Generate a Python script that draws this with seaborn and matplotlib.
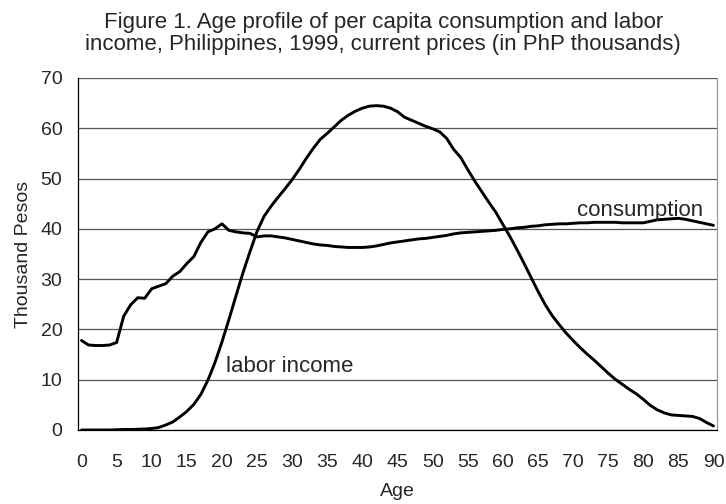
import numpy as np
import pandas as pd
import matplotlib
matplotlib.use('Agg')
import matplotlib.pyplot as plt
import seaborn as sns

# age profile data (thousand pesos)
ages = list(range(0, 91))
consumption = [17.8, 16.9, 16.8, 16.8, 16.9, 17.4, 22.6, 24.9, 26.3, 26.2,
               28.1, 28.6, 29.1, 30.6, 31.5, 33.1, 34.5, 37.3, 39.4, 40.0,
               41.0, 39.7, 39.4, 39.2, 39.1, 38.4, 38.6, 38.6, 38.4, 38.2,
               37.9, 37.6, 37.3, 37.0, 36.8, 36.7, 36.5, 36.4, 36.3, 36.3,
               36.3, 36.4, 36.6, 36.9, 37.2, 37.4, 37.6, 37.8, 38.0, 38.1,
               38.3, 38.5, 38.7, 39.0, 39.2, 39.3, 39.4, 39.5, 39.6, 39.7,
               39.9, 40.0, 40.2, 40.3, 40.5, 40.6, 40.8, 40.9, 41.0, 41.0,
               41.1, 41.2, 41.2, 41.3, 41.3, 41.3, 41.3, 41.2, 41.2, 41.2,
               41.2, 41.5, 41.8, 41.9, 42.0, 42.1, 41.9, 41.6, 41.3, 41.0,
               40.7]
labor_income = [0.0, 0.0, 0.0, 0.0, 0.0, 0.05, 0.1, 0.1, 0.15, 0.2,
                0.3, 0.5, 1.0, 1.6, 2.6, 3.7, 5.1, 7.1, 9.9, 13.4,
                17.5, 22.0, 26.7, 31.3, 35.5, 39.5, 42.5, 44.5, 46.3, 48.0,
                49.8, 51.8, 54.0, 56.0, 57.8, 59.0, 60.3, 61.6, 62.6, 63.4,
                64.0, 64.4, 64.5, 64.4, 64.0, 63.3, 62.2, 61.6, 61.0, 60.4,
                59.9, 59.3, 58.0, 55.8, 54.2, 51.8, 49.5, 47.4, 45.3, 43.3,
                40.9, 38.5, 35.9, 33.2, 30.4, 27.6, 25.0, 22.8, 21.0, 19.3,
                17.8, 16.4, 15.1, 13.9, 12.6, 11.3, 10.1, 9.1, 8.1, 7.2,
                6.1, 4.9, 4.0, 3.4, 3.0, 2.9, 2.8, 2.7, 2.3, 1.5,
                0.8]

df = pd.DataFrame({'age': ages, 'consumption': consumption, 'labor income': labor_income})
long = df.melt(id_vars='age', var_name='series', value_name='value')

sns.set_style('white')
plt.rcParams['font.family'] = ['Liberation Sans', 'DejaVu Sans']

fig = plt.figure(figsize=(7.26, 5.04), dpi=100)
ax = fig.add_axes([78 / 726, 1 - 430 / 504, 639 / 726, 352 / 504])

sns.lineplot(data=long, x='age', y='value', units='series', estimator=None,
             color='black', linewidth=2.1, ax=ax, legend=False)

ax.set_xlim(-0.5, 90.5)
ax.set_ylim(0, 70)
ax.set_xticks(range(0, 91, 5))
ax.set_xticks(np.arange(-0.5, 91, 1), minor=True)
ax.set_yticks(range(0, 71, 10))
ax.tick_params(axis='x', which='major', length=0, pad=17, labelsize=14)
ax.tick_params(axis='x', which='minor', length=4.3, width=0.8, direction='out', color='black')
ax.tick_params(axis='y', which='major', length=4.3, width=0.8, direction='out', color='black',
               labelsize=14, pad=7)
ax.grid(axis='y', color='#555555', linewidth=0.9)
ax.set_axisbelow(True)

ax.spines['top'].set_visible(False)
ax.spines['right'].set_color('#999999')
ax.spines['left'].set_color('black')
ax.spines['bottom'].set_color('black')
for s in ['left', 'bottom', 'right']:
    ax.spines[s].set_linewidth(0.9)

ax.set_xlabel('Age', fontsize=14, labelpad=9)
ax.set_ylabel('Thousand Pesos', fontsize=14, labelpad=6)

ax.text(79.5, 43.6, 'consumption', fontsize=16, ha='center', va='center')
ax.text(20.6, 12.6, 'labor income', fontsize=16, ha='left', va='center')

fig.suptitle('Figure 1. Age profile of per capita consumption and labor\n'
             'income, Philippines, 1999, current prices (in PhP thousands)',
             fontsize=16, x=0.528, y=0.976, va='top', linespacing=1.08)

fig.savefig('out.png', dpi=100)
